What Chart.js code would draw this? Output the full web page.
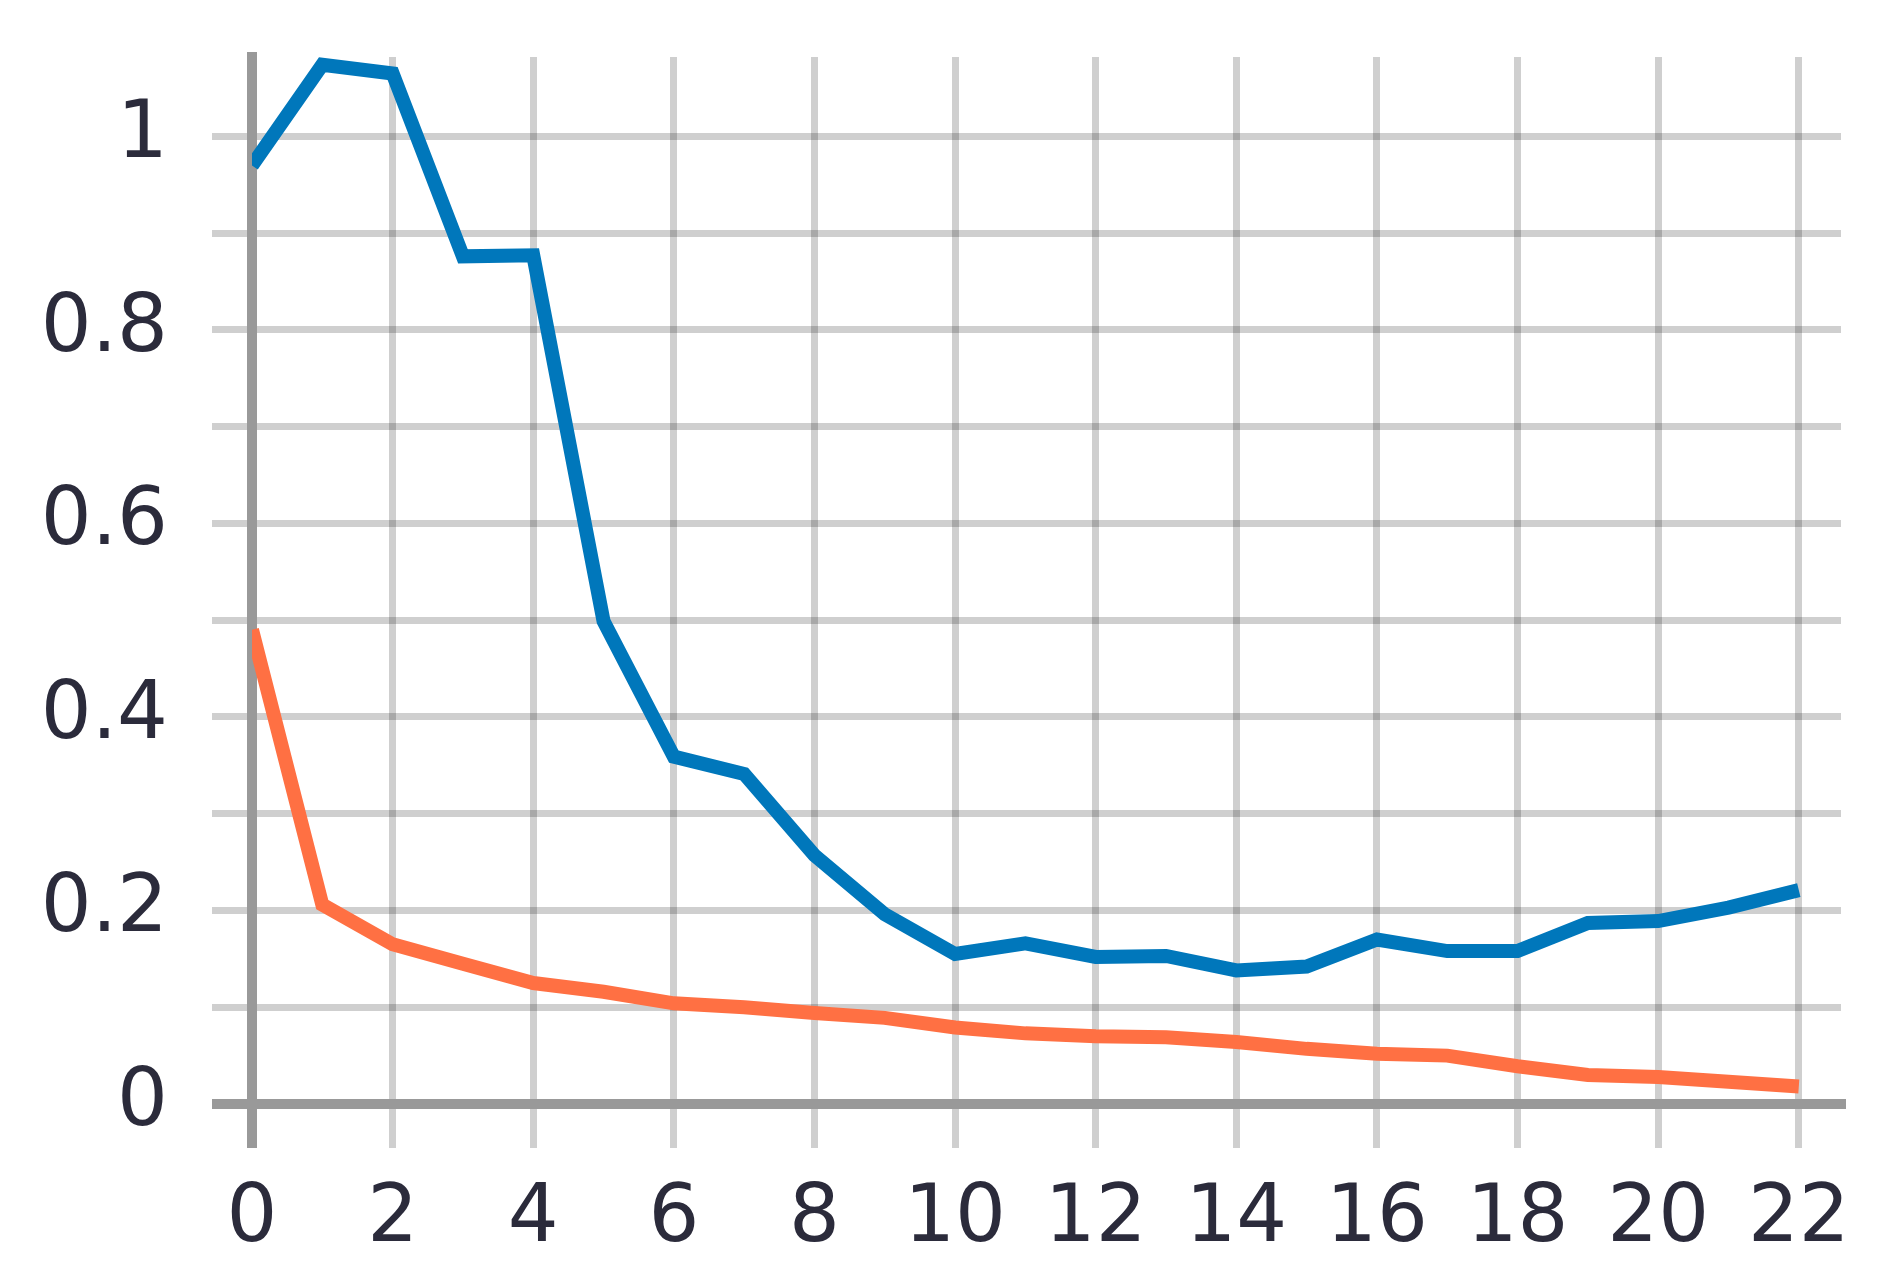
<!DOCTYPE html>
<html>
<head>
<meta charset="utf-8">
<script src="https://cdn.jsdelivr.net/npm/chart.js@4.4.1/dist/chart.umd.min.js"></script>
<style>
    html, body { margin: 0; padding: 0; background: #ffffff; }
    #wrap { width: 1887px; height: 1279px; position: relative; }
</style>
</head>
<body>
<div id="wrap"><canvas id="js--lijnChart"></canvas></div>
<script>
// data
const stappen = [0, 1, 2, 3, 4, 5, 6, 7, 8, 9, 10, 11, 12, 13, 14, 15, 16, 17, 18, 19, 20, 21, 22];
const blauwWaarden = [0.970, 1.074, 1.065, 0.876, 0.877, 0.499, 0.359, 0.341, 0.257, 0.196, 0.155,
    0.166, 0.152, 0.153, 0.138, 0.142, 0.170, 0.158, 0.158, 0.187, 0.189, 0.203, 0.221];
const oranjeWaarden = [0.490, 0.206, 0.165, 0.145, 0.125, 0.116, 0.104, 0.100, 0.094, 0.089, 0.079,
    0.073, 0.070, 0.069, 0.064, 0.057, 0.052, 0.050, 0.039, 0.030, 0.028, 0.023, 0.018];
const yLabels = ["0", "0.2", "0.4", "0.6", "0.8", "1"];

const blauw = "rgb(0, 119, 187)";
const oranje = "rgb(255, 112, 67)";
const gridKleur = "rgba(0, 0, 0, 0.19)";
const asKleur = "#999999";
const tekstKleur = "#2b2b3b";

function punten(waarden) {
    return waarden.map((w, i) => ({ x: stappen[i], y: w }));
}

// nul-lijn donker en dik, de rest licht
function lijnKleur(ctx) {
    return ctx.tick && ctx.tick.value === 0 ? asKleur : gridKleur;
}
function lijnDikte(ctx) {
    return ctx.tick && ctx.tick.value === 0 ? 10 : 7;
}

const lijnChart = document.getElementById("js--lijnChart");

const data = {
    datasets: [{
        label: "blauw",
        data: punten(blauwWaarden),
        borderColor: blauw,
        borderWidth: 14,
        pointRadius: 0,
        tension: 0,
        borderJoinStyle: "miter"
    }, {
        label: "oranje",
        data: punten(oranjeWaarden),
        borderColor: oranje,
        borderWidth: 14,
        pointRadius: 0,
        tension: 0,
        borderJoinStyle: "miter"
    }]
};

const config = {
    type: "line",
    data: data,
    options: {
        responsive: true,
        maintainAspectRatio: false,
        animation: false,
        layout: {
            padding: { top: 57, right: 46, bottom: 0, left: 0 }
        },
        plugins: {
            legend: { display: false },
            tooltip: { enabled: false }
        },
        scales: {
            x: {
                type: "linear",
                min: 0,
                max: 22.6,
                afterFit: (scale) => {
                    scale.height = 175;
                    scale.paddingLeft = 0;
                    scale.paddingRight = 0;
                },
                grid: {
                    z: -2,
                    color: lijnKleur,
                    lineWidth: lijnDikte,
                    tickLength: 44
                },
                border: { z: -1, color: asKleur, width: 10 },
                ticks: {
                    stepSize: 2,
                    includeBounds: false,
                    padding: 24,
                    maxRotation: 0,
                    autoSkip: false,
                    color: tekstKleur,
                    font: { family: "'DejaVu Sans', Verdana, sans-serif", size: 80 }
                }
            },
            y: {
                type: "linear",
                min: 0,
                max: 1.082,
                afterFit: (scale) => {
                    scale.width = 252;
                    scale.paddingTop = 0;
                    scale.paddingBottom = 0;
                },
                grid: {
                    z: -2,
                    color: lijnKleur,
                    lineWidth: lijnDikte,
                    tickLength: 40
                },
                border: { z: -1, color: asKleur, width: 10 },
                ticks: {
                    stepSize: 0.1,
                    includeBounds: false,
                    padding: 44,
                    autoSkip: false,
                    color: tekstKleur,
                    font: { family: "'DejaVu Sans', Verdana, sans-serif", size: 80 },
                    callback: function(waarde) {
                        const tiende = Math.round(waarde * 10);
                        return tiende % 2 === 0 ? yLabels[tiende / 2] : "";
                    }
                }
            }
        }
    }
};

myChart = new Chart(lijnChart, config);
</script>
</body>
</html>
